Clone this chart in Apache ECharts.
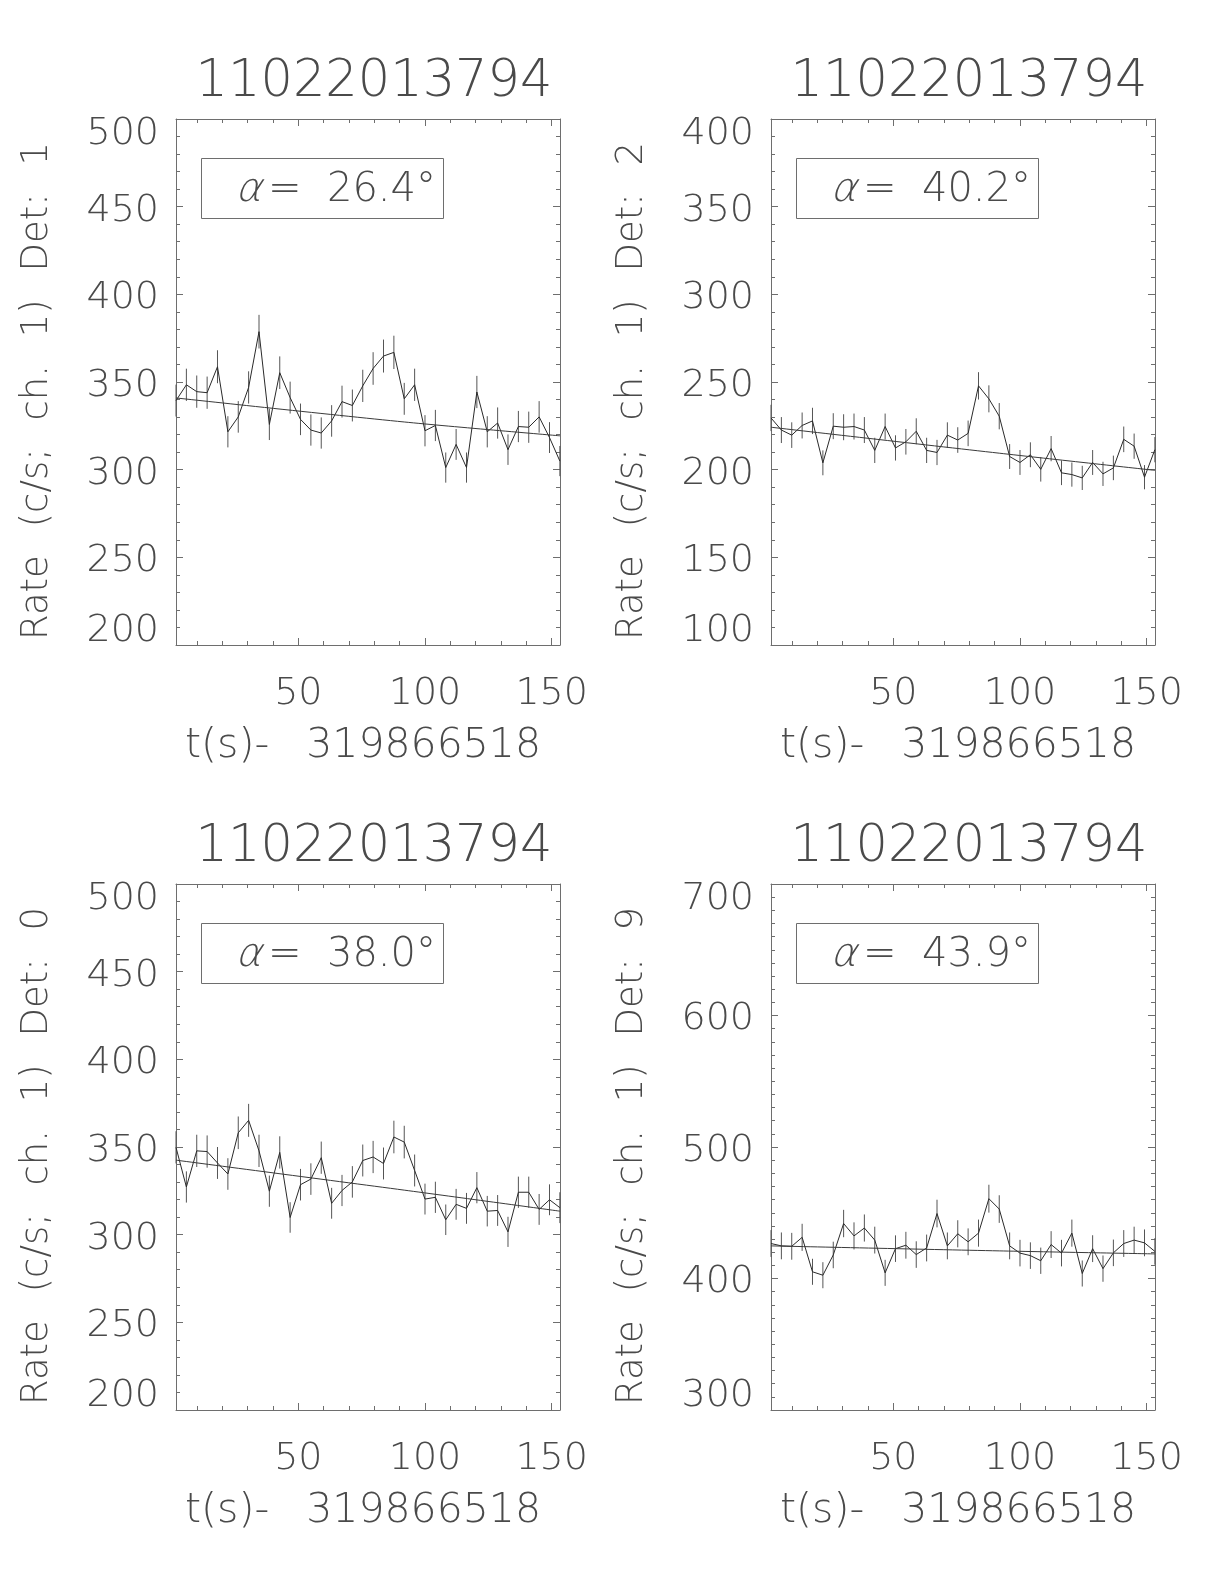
<!DOCTYPE html>
<html><head><meta charset="utf-8">
<script src="https://cdn.jsdelivr.net/npm/echarts@6/dist/echarts.min.js"></script>
<style>html,body{margin:0;padding:0;background:#fff}#c{width:1224px;height:1584px}</style>
</head><body><div id="c"></div>
<script>
// ---------- data ----------
const titleText = '11022013794';
const xAxisNameParts = ['t(s)-', '319866518'];
const yAxisNameWords = [
  ['Rate', '(c/s;', 'ch.', '1)', 'Det:', '1'],
  ['Rate', '(c/s;', 'ch.', '1)', 'Det:', '2'],
  ['Rate', '(c/s;', 'ch.', '1)', 'Det:', '0'],
  ['Rate', '(c/s;', 'ch.', '1)', 'Det:', '9']
];
const alphaValues = ['26.4', '40.2', '38.0', '43.9'];
const xMin = 1.7, xMax = 153.3;
const xTickLabels = [50, 100, 150];
const yMins = [200, 100, 200, 300];
const yMaxs = [500, 400, 500, 700];
const yIntervals = [50, 50, 50, 100];
const yMinorSplits = [5, 5, 5, 10];

const times = [1.70, 5.80, 9.89, 13.99, 18.08, 22.18, 26.28, 30.37, 34.47, 38.56,
  42.66, 46.76, 50.85, 54.95, 59.04, 63.14, 67.24, 71.33, 75.43, 79.52,
  83.62, 87.72, 91.81, 95.91, 100.00, 104.10, 108.20, 112.29, 116.39, 120.48,
  124.58, 128.68, 132.77, 136.87, 140.96, 145.06, 149.16, 153.25];

const rateDet1 = [339.4, 348.4, 344.5, 343.9, 358.7, 321.6, 330.1, 346.9, 378.7, 325.8,
  355.3, 341.1, 328.7, 322.6, 320.9, 327.8, 338.8, 336.6, 347.8, 357.7,
  364.8, 366.9, 340.4, 348.4, 322.2, 325.2, 301.2, 314.4, 301.2, 344.3,
  321.6, 326.6, 311.4, 324.6, 324.2, 330.1, 318.3, 304.9];
const errDet1 = [9.1, 9.2, 9.2, 9.2, 9.4, 8.9, 9.0, 9.2, 9.6, 8.9,
  9.3, 9.1, 9.0, 8.9, 8.9, 9.0, 9.1, 9.1, 9.2, 9.3,
  9.4, 9.5, 9.1, 9.2, 8.9, 8.9, 8.6, 8.8, 8.6, 9.2,
  8.9, 8.9, 8.7, 8.9, 8.9, 9.0, 8.8, 8.6];
const rateDet2 = [229.5, 222.6, 219.7, 225.2, 227.8, 203.9, 224.8, 224.2, 224.6, 222.6,
  211.0, 224.6, 212.4, 215.9, 221.9, 211.0, 209.8, 219.7, 216.9, 220.7,
  247.8, 240.4, 230.5, 207.5, 204.1, 208.5, 200.2, 212.0, 198.2, 197.2,
  195.3, 204.1, 197.6, 201.0, 217.3, 213.4, 195.7, 211.4];
const errDet2 = [7.5, 7.4, 7.3, 7.4, 7.5, 7.1, 7.4, 7.4, 7.4, 7.4,
  7.2, 7.4, 7.2, 7.3, 7.4, 7.2, 7.2, 7.3, 7.3, 7.3,
  7.8, 7.7, 7.5, 7.1, 7.1, 7.1, 7.0, 7.2, 7.0, 6.9,
  6.9, 7.1, 6.9, 7.0, 7.3, 7.2, 6.9, 7.2];
const rateDet0 = [349.8, 327.2, 347.8, 347.4, 340.9, 334.6, 358.1, 365.2, 347.8, 324.8,
  346.9, 309.8, 328.5, 331.7, 343.9, 317.9, 325.2, 330.1, 342.3, 344.3,
  340.6, 355.7, 352.8, 336.6, 320.3, 321.3, 308.5, 317.3, 315.0, 326.8,
  313.4, 313.8, 301.6, 324.2, 324.2, 314.4, 319.9, 315.4];
const errDet0 = [9.2, 8.9, 9.2, 9.2, 9.1, 9.0, 9.3, 9.4, 9.2, 8.9,
  9.2, 8.7, 9.0, 9.0, 9.2, 8.8, 8.9, 9.0, 9.1, 9.2,
  9.1, 9.3, 9.3, 9.1, 8.8, 8.9, 8.7, 8.8, 8.8, 8.9,
  8.7, 8.8, 8.6, 8.9, 8.9, 8.8, 8.8, 8.8];
const rateDet9 = [426.6, 424.8, 424.5, 431.3, 405.1, 402.5, 417.9, 441.8, 432.4, 438.4,
  429.2, 404.3, 422.7, 425.3, 418.2, 423.2, 449.4, 424.8, 434.0, 427.9,
  434.5, 460.7, 452.8, 424.8, 419.3, 417.4, 413.5, 425.8, 419.3, 434.5,
  403.8, 422.7, 407.5, 419.5, 426.6, 429.2, 427.1, 420.6];
const errDet9 = [10.2, 10.2, 10.2, 10.3, 9.9, 9.9, 10.1, 10.4, 10.3, 10.3,
  10.2, 9.9, 10.1, 10.2, 10.1, 10.2, 10.5, 10.2, 10.3, 10.2,
  10.3, 10.6, 10.5, 10.2, 10.1, 10.1, 10.0, 10.2, 10.1, 10.3,
  9.9, 10.2, 10.0, 10.1, 10.2, 10.2, 10.2, 10.1];

const fitTimes = [1.7, 91.8, 153.3];
const fitDet1 = [340.9, 327.2, 319.3];
const fitDet2 = [224.2, 209.4, 199.6];
const fitDet0 = [342.5, 325.4, 313.4];
const fitDet9 = [424.8, 421.0, 418.7];

const panelRates = [rateDet1, rateDet2, rateDet0, rateDet9];
const panelErrs = [errDet1, errDet2, errDet0, errDet9];
const panelFits = [fitDet1, fitDet2, fitDet0, fitDet9];

// ---------- layout / style ----------
const FONT = "'DejaVu Sans', sans-serif";
const FW = 200;
const TXT = '#4a4a4a';
const FRAME = '#6e6e6e';
const grids = [
  {left: 176, top: 119, width: 384, height: 526},
  {left: 771, top: 119, width: 384, height: 526},
  {left: 176, top: 884, width: 384, height: 526},
  {left: 771, top: 884, width: 384, height: 526}
];

const option = {
  animation: false,
  backgroundColor: '#fff',
  grid: grids.map(g => Object.assign({containLabel: false, outerBoundsMode: 'none'}, g)),
  xAxis: [], yAxis: [], series: [], graphic: []
};

const lineStyleFrame = {color: FRAME, width: 1};

grids.forEach((g, gi) => {
  const xBase = option.xAxis.length;
  const nameFont = {color: TXT, fontFamily: FONT, fontWeight: FW};
  // bottom major (labels)
  option.xAxis.push({
    gridIndex: gi, type: 'value', min: xMin, max: xMax, splitNumber: 3, position: 'bottom',
    axisLine: {show: true, onZero: false, lineStyle: lineStyleFrame},
    axisTick: {show: true, inside: true, length: 7, lineStyle: lineStyleFrame},
    axisLabel: {
      show: true, margin: 30, color: TXT, fontSize: 38, fontFamily: FONT, fontWeight: FW,
      showMinLabel: true, showMaxLabel: true, hideOverlap: false,
      formatter: v => (xTickLabels.indexOf(Math.round(v * 1000) / 1000) >= 0 ? String(v) : '')
    },
    splitLine: {show: false},
    name: '{a|' + xAxisNameParts[0] + '} {b|' + xAxisNameParts[1] + '}',
    nameLocation: 'middle', nameGap: 81,
    nameTextStyle: Object.assign({fontSize: 41,
      rich: {
        a: Object.assign({fontSize: 41, padding: [0, 6, 0, 0]}, nameFont),
        b: Object.assign({fontSize: 41, padding: [0, 10, 0, 18]}, nameFont)
      }}, nameFont)
  });
  // bottom minor ticks
  option.xAxis.push({
    gridIndex: gi, type: 'value', min: xMin, max: xMax, splitNumber: 15, position: 'bottom',
    axisLine: {show: false, onZero: false},
    axisTick: {show: true, inside: true, length: 4, lineStyle: lineStyleFrame},
    axisLabel: {show: false}, splitLine: {show: false}
  });
  // top major
  option.xAxis.push({
    gridIndex: gi, type: 'value', min: xMin, max: xMax, splitNumber: 3, position: 'top',
    axisLine: {show: true, onZero: false, lineStyle: lineStyleFrame},
    axisTick: {show: true, inside: true, length: 7, lineStyle: lineStyleFrame},
    axisLabel: {show: false}, splitLine: {show: false}
  });
  // top minor
  option.xAxis.push({
    gridIndex: gi, type: 'value', min: xMin, max: xMax, splitNumber: 15, position: 'top',
    axisLine: {show: false, onZero: false},
    axisTick: {show: true, inside: true, length: 4, lineStyle: lineStyleFrame},
    axisLabel: {show: false}, splitLine: {show: false}
  });

  const yBase = option.yAxis.length;
  const ymin = yMins[gi], ymax = yMaxs[gi];
  const labelCommon = {fontSize: 38, fontFamily: FONT, fontWeight: FW, color: TXT};
  const words = yAxisNameWords[gi];
  const yName = words.map((w, wi) => '{' + (wi < words.length - 1 ? 'w' : 'e') + '|' + w + '}').join(' ');
  option.yAxis.push({
    gridIndex: gi, type: 'value', min: ymin, max: ymax, interval: yIntervals[gi], position: 'left',
    axisLine: {show: true, onZero: false, lineStyle: lineStyleFrame},
    axisTick: {show: true, inside: true, length: 7, lineStyle: lineStyleFrame},
    minorTick: {show: true, splitNumber: yMinorSplits[gi], length: 4, lineStyle: lineStyleFrame},
    axisLabel: Object.assign({
      show: true, margin: 17, showMinLabel: true, showMaxLabel: true, hideOverlap: false,
      formatter: v => (v === ymax ? '{t|' + v + '}' : (v === ymin ? '{b|' + v + '}' : '{m|' + v + '}')),
      rich: {
        t: Object.assign({padding: [31, 0, 0, 0]}, labelCommon),
        m: Object.assign({padding: [8, 0, 0, 0]}, labelCommon),
        b: Object.assign({padding: [0, 0, 28, 0]}, labelCommon)
      }
    }, labelCommon),
    splitLine: {show: false}, minorSplitLine: {show: false},
    name: yName, nameLocation: 'middle', nameGap: 120,
    nameTextStyle: Object.assign({fontSize: 37,
      rich: {
        w: Object.assign({fontSize: 37, padding: [0, 16, 0, 0]}, nameFont),
        e: Object.assign({fontSize: 37, padding: [0, 18, 0, 0]}, nameFont)
      }}, nameFont)
  });
  option.yAxis.push({
    gridIndex: gi, type: 'value', min: ymin, max: ymax, interval: yIntervals[gi], position: 'right',
    axisLine: {show: true, onZero: false, lineStyle: lineStyleFrame},
    axisTick: {show: true, inside: true, length: 7, lineStyle: lineStyleFrame},
    minorTick: {show: true, splitNumber: yMinorSplits[gi], length: 4, lineStyle: lineStyleFrame},
    axisLabel: {show: false}, splitLine: {show: false}, minorSplitLine: {show: false}
  });

  const rates = panelRates[gi], errs = panelErrs[gi], fit = panelFits[gi];
  // error bars
  option.series.push({
    type: 'custom', xAxisIndex: xBase, yAxisIndex: yBase, silent: true,
    data: times.map((t, i) => [t, rates[i] - errs[i], rates[i] + errs[i]]),
    encode: {x: 0, y: [1, 2]},
    renderItem: function (params, api) {
      const p1 = api.coord([api.value(0), api.value(1)]);
      const p2 = api.coord([api.value(0), api.value(2)]);
      return {type: 'line', shape: {x1: p1[0], y1: p1[1], x2: p2[0], y2: p2[1]},
        style: {stroke: '#555', lineWidth: 1}};
    }
  });
  // light curve
  option.series.push({
    type: 'line', xAxisIndex: xBase, yAxisIndex: yBase, showSymbol: false, symbol: 'none',
    data: times.map((t, i) => [t, rates[i]]),
    lineStyle: {color: '#2a2a2a', width: 1}, silent: true
  });
  // fit
  option.series.push({
    type: 'line', xAxisIndex: xBase, yAxisIndex: yBase, showSymbol: false, symbol: 'none',
    smooth: 0.3,
    data: fitTimes.map((t, i) => [t, fit[i]]),
    lineStyle: {color: '#3a3a3a', width: 1}, silent: true
  });

  // title
  option.graphic.push({
    type: 'text', x: g.left + g.width / 2 + 6, y: g.top - 36,
    style: {text: titleText, fill: TXT, fontSize: 51, fontFamily: FONT, fontWeight: FW,
      align: 'center', verticalAlign: 'middle'}
  });
  // alpha box
  option.graphic.push({
    type: 'rect', shape: {x: g.left + 25.5, y: g.top + 39.5, width: 242, height: 60},
    style: {fill: 'none', stroke: FRAME, lineWidth: 1}
  });
  option.graphic.push({
    type: 'text', x: g.left + 62, y: g.top + 72, skewX: -0.3,
    style: {text: 'α', fill: TXT, fontSize: 40, fontFamily: FONT, fontWeight: FW,
      align: 'left', verticalAlign: 'middle'}
  });
  option.graphic.push({
    type: 'text', x: g.left + 92, y: g.top + 72,
    style: {text: '=  ' + alphaValues[gi] + '°', fill: TXT, fontSize: 40, fontFamily: FONT, fontWeight: FW,
      align: 'left', verticalAlign: 'middle'}
  });
});

const chart = echarts.init(document.getElementById('c'), null, {renderer: 'canvas', width: 1224, height: 1584});
chart.setOption(option);
</script>
</body></html>
